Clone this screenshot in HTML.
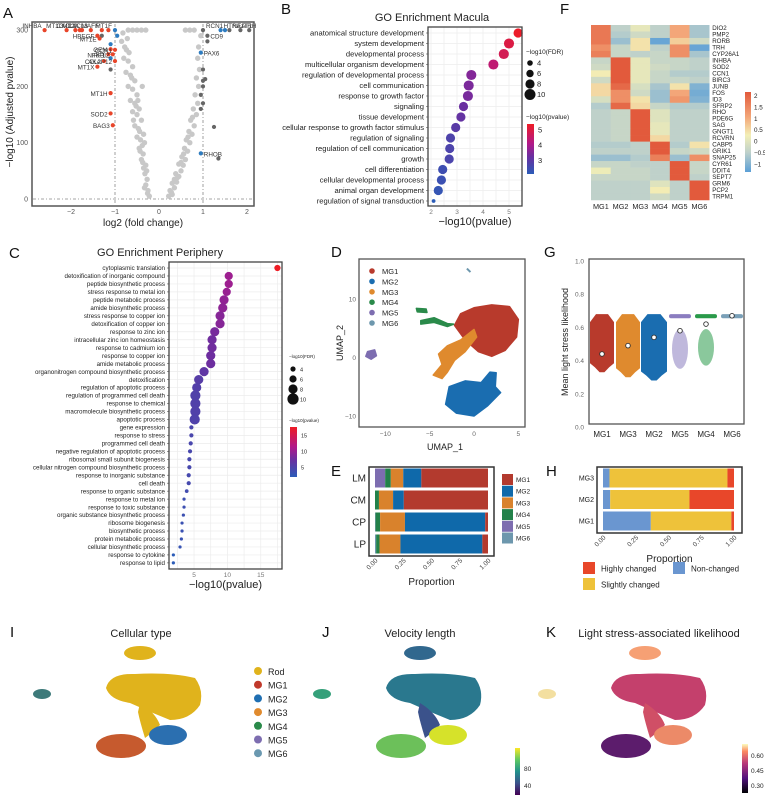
<!DOCTYPE html>
<html><head><meta charset="utf-8"><style>
html,body{margin:0;padding:0;background:#fff;}
svg{display:block;font-family:"Liberation Sans",Arial,sans-serif;}
</style></head><body>
<svg id="s" width="765" height="797" viewBox="0 0 765 797" xmlns="http://www.w3.org/2000/svg">
<rect width="765" height="797" fill="#fff"/>
<g font-size="15" fill="#111">
<text x="3" y="18">A</text>
<text x="281" y="14">B</text>
<text x="560" y="14">F</text>
<text x="9" y="258">C</text>
<text x="331" y="257">D</text>
<text x="544" y="257">G</text>
<text x="331" y="476">E</text>
<text x="546" y="476">H</text>
<text x="10" y="637">I</text>
<text x="322" y="637">J</text>
<text x="546" y="637">K</text>
</g>
<g font-size="11" fill="#222" text-anchor="middle">
<text x="432" y="21">GO Enrichment Macula</text>
<text x="160" y="256">GO Enrichment Periphery</text>
<text x="141" y="637">Cellular type</text>
<text x="420" y="637">Velocity length</text>
<text x="659" y="637">Light stress-associated likelihood</text>
</g>
</svg>
<script>
const NS="http://www.w3.org/2000/svg";
const svg=document.getElementById('s');
function mk(tag,a,p){const e=document.createElementNS(NS,tag);for(const k in a)e.setAttribute(k,a[k]);(p||svg).appendChild(e);return e;}
function tx(s,x,y,size,anchor,fill,p){const e=mk('text',{x:x,y:y,'font-size':size,'text-anchor':anchor||'start',fill:fill||'#222'},p);e.textContent=s;return e;}
function lerpC(stops,t){t=Math.max(0,Math.min(1,t));for(let i=1;i<stops.length;i++){if(t<=stops[i][0]){const a=stops[i-1],b=stops[i];const f=(t-a[0])/(b[0]-a[0]);const ca=a[1],cb=b[1];return 'rgb('+[0,1,2].map(j=>Math.round(ca[j]+(cb[j]-ca[j])*f)).join(',')+')';}}return 'rgb('+stops[stops.length-1][1].join(',')+')';}
function hex(h){return [parseInt(h.substr(1,2),16),parseInt(h.substr(3,2),16),parseInt(h.substr(5,2),16)];}

/* ================= A: volcano ================= */
const volcGrayLeft=[[-0.22,5],[-0.25,15],[-0.33,20],[-0.3,25],[-0.27,35],[-0.32,45],[-0.28,50],[-0.35,55],[-0.3,60],[-0.4,70],[-0.36,80],[-0.43,85],[-0.45,90],[-0.38,95],[-0.33,100],[-0.42,105],[-0.5,110],[-0.35,115],[-0.47,125],[-0.55,130],[-0.4,140],[-0.58,140],[-0.5,150],[-0.6,155],[-0.45,160],[-0.55,170],[-0.48,175],[-0.65,175],[-0.5,185],[-0.6,195],[-0.38,200],[-0.7,200],[-0.55,210],[-0.65,220],[-0.75,225],[-0.6,235],[-0.7,245],[-0.8,250],[-0.68,260],[-0.78,270],[-0.85,280],[-0.72,285],[-0.82,295],[-0.6,300],[-0.5,300],[-0.4,300],[-0.3,300],[-0.7,300],[-0.26,10],[-0.37,65],[-0.44,120],[-0.52,165],[-0.62,215],[-0.74,265]];
const volcGrayRight=[[0.22,5],[0.3,8],[0.25,15],[0.35,20],[0.3,28],[0.4,30],[0.35,35],[0.45,40],[0.38,45],[0.5,50],[0.55,60],[0.45,62],[0.5,65],[0.6,70],[0.52,75],[0.65,85],[0.58,90],[0.7,100],[0.62,105],[0.75,115],[0.68,120],[0.8,130],[0.72,140],[0.85,150],[0.78,160],[0.88,170],[0.82,185],[0.9,200],[0.85,215],[0.92,230],[0.88,250],[0.9,270],[0.95,290],[0.6,300],[0.7,300],[0.8,300],[0.28,12],[0.42,38],[0.56,80],[0.66,110],[0.76,145]];
const volcRed=[[-2.6,300,'INHBA'],[-2.1,300,'MT1G'],[-1.8,300,'CXCL2'],[-1.75,300,'MT2A'],[-1.55,300,'CXCL3'],[-1.3,300,'MAFF'],[-1.4,290,'HBEGF'],[-1.35,285,'MT1E'],[-1.1,266,'GEM'],[-1.0,265,'CCN1'],[-1.15,257,'IRF1'],[-1.05,257,'NFKBIZ'],[-1.25,245,'CCL2'],[-1.0,245,'AKAP12'],[-1.4,235,'MT1X'],[-1.1,188,'MT1H'],[-1.1,152,'SOD2'],[-1.05,131,'BAG3'],[-1.9,300,''],[-1.15,300,'']];
const volcBlue=[[-1.0,300,'MT1F'],[-0.95,290,''],[-1.1,275,''],[-1.1,250,''],[1.4,300,'HTRA1'],[1.5,300,''],[0.95,260,'PAX6'],[0.95,81,'RHOB']];
const volcDark=[[1.0,300,'RCN1'],[1.1,290,'CD9'],[1.85,300,'TRH'],[1.6,300,'NEAT1'],[2.05,300,''],[1.1,280,''],[1.0,230,''],[1.0,210,''],[1.05,213,''],[1.0,200,''],[0.95,185,''],[1.0,170,''],[0.95,160,''],[1.25,128,''],[1.35,72,''],[-1.1,230,''],[-1.3,290,'']];
const volcXTicks=[-2,-1,0,1,2];
const volcYTicks=[0,100,200,300];
(function(){
 const g=mk('g',{});
 
 
 const X=v=>159+v*44, Y=v=>199-v*0.563;
 const L=mk('line',{x1:X(-1),x2:X(-1),y1:24,y2:205,stroke:'#888','stroke-dasharray':'3,2,1,2','stroke-width':0.8},g);
 
 const R=mk('line',{x1:X(1),x2:X(1),y1:24,y2:205,stroke:'#888','stroke-dasharray':'3,2,1,2','stroke-width':0.8},g);
 
 const H=mk('line',{x1:33,x2:253,y1:Y(0),y2:Y(0),stroke:'#888','stroke-dasharray':'3,2,1,2','stroke-width':0.8},g);
 
 volcGrayLeft.concat(volcGrayRight).forEach(p=>{
  const c=mk('circle',{cx:X(p[0]),cy:Y(p[1]),r:2.7,fill:'#c8c8c8'},g);
  
  
 });
 [[volcDark,'#666'],[volcBlue,'#2e7cc0'],[volcRed,'#e8452a']].forEach(([arr,col])=>{
  arr.forEach(p=>{
   const c=mk('circle',{cx:X(p[0]),cy:Y(p[1]),r:2.1,fill:col},g);
   
   
   if(p[2]){
    const left=p[0]<0;
    const t=tx(p[2],X(p[0])+(left?-3:3),Y(p[1])+(p[1]>=299?-2:3),6.3,left?'end':'start','#333',g);
    
    
   }
  });
 });
 const box=mk('rect',{x:32,y:22,width:222,height:184,fill:'none',stroke:'#555','stroke-width':1.5},g);
 
 volcXTicks.forEach(v=>{
  const t=tx(String(v).replace('-','−'),X(v),214,7,'middle','#555',g);
  
  
 });
 volcYTicks.forEach(v=>{
  const t=tx(String(v),28,Y(v)+2.5,7,'end','#555',g);
  
  
 });
 const xt=tx('log2 (fold change)',143,226,10,'middle','#222',g);
 
 const yt=tx('−log10 (Adjusted pvalue)',0,0,10,'middle','#222',g);
 yt.setAttribute('transform','translate(13,112) rotate(-90)');
 
})();

/* ================= GO dot plots ================= */
const goStops=[[0,hex('#2b5cb8')],[0.35,hex('#6a2fa0')],[0.6,hex('#b0198a')],[1,hex('#ee1c25')]];
const macTerms=['anatomical structure development','system development','developmental process','multicellular organism development','regulation of developmental process','cell communication','response to growth factor','signaling','tissue development','cellular response to growth factor stimulus','regulation of signaling','regulation of cell communication','growth','cell differentiation','cellular developmental process','animal organ development','regulation of signal transduction'];
const macPval=[5.35,5.0,4.8,4.4,3.55,3.45,3.42,3.25,3.15,2.95,2.75,2.72,2.7,2.45,2.4,2.28,2.1];
const macFDR=[8,9,9,9,9,9,9,8,8,8,8,8,8,8,8,8,2];
const macTicks=[2,3,4,5];
const perTerms=['cytoplasmic translation','detoxification of inorganic compound','peptide biosynthetic process','stress response to metal ion','peptide metabolic process','amide biosynthetic process','stress response to copper ion','detoxification of copper ion','response to zinc ion','intracellular zinc ion homeostasis','response to cadmium ion','response to copper ion','amide metabolic process','organonitrogen compound biosynthetic process','detoxification','regulation of apoptotic process','regulation of programmed cell death','response to chemical','macromolecule biosynthetic process','apoptotic process','gene expression','response to stress','programmed cell death','negative regulation of apoptotic process','ribosomal small subunit biogenesis','cellular nitrogen compound biosynthetic process','response to inorganic substance','cell death','response to organic substance','response to metal ion','response to toxic substance','organic substance biosynthetic process','ribosome biogenesis','biosynthetic process','protein metabolic process','cellular biosynthetic process','response to cytokine','response to lipid'];
const perPval=[17.5,10.2,10.2,9.9,9.5,9.3,8.9,8.9,8.1,7.7,7.7,7.5,7.5,6.5,5.7,5.4,5.2,5.2,5.2,5.1,4.6,4.6,4.5,4.4,4.3,4.3,4.2,4.2,3.9,3.5,3.5,3.4,3.2,3.2,3.1,2.9,1.9,1.9];
const perFDR=[5,7,7,7,8,8,8,8,8,8,8,8,8,8,8,8,9,9,9,9,3,3,3,3,3,3,3,3,2.5,2,2,2,2,2,2,2,2,2];
const perTicks=[5,10,15];
function dotPlot(o){
 const g=mk('g',{});
 
 
 const X=v=>o.x0+(v-o.vmin)*o.kx, Y=i=>o.y0+i*o.dy;
 for(let v=o.gmin;v<=o.gmax+1e-9;v+=o.gstep){
  const l=mk('line',{x1:X(v),x2:X(v),y1:o.top,y2:o.bot,stroke:'#ececec','stroke-width':0.7},g);
  
 }
 o.terms.forEach((t,i)=>{
  const l=mk('line',{x1:o.left,x2:o.right,y1:Y(i),y2:Y(i),stroke:'#ececec','stroke-width':0.7},g);
  
  const lab=tx(t,o.left-4,Y(i)+o.fs*0.35,o.fs,'end','#222',g);
  
  
  const tk=mk('line',{x1:o.left-2,x2:o.left,y1:Y(i),y2:Y(i),stroke:'#555','stroke-width':0.6},g);
  
 });
 o.vals.forEach((v,i)=>{
  const c=mk('circle',{cx:X(v),cy:Y(i),r:o.rfn(o.fdr[i]),fill:lerpC(goStops,(v-o.cmin)/(o.cmax-o.cmin))},g);
  
  
 });
 const b=mk('rect',{x:o.left,y:o.top,width:o.right-o.left,height:o.bot-o.top,fill:'none',stroke:'#444','stroke-width':1.3},g);
 
 o.ticks.forEach(v=>{
  const t=tx(String(v),X(v),o.bot+8,6.5,'middle','#777',g);
  
  
 });
 const xt=tx('−log10(pvalue)',(o.left+o.right)/2,o.bot+19,11,'middle','#222',g);
 
 const lg=o.lg;
 const l1=tx('−log10(FDR)',lg.x,lg.y,lg.fs,'start','#222',g);
 
 o.lsz.forEach((s,k)=>{
  const c=mk('circle',{cx:lg.x+4,cy:lg.y+lg.sy0+k*lg.sy,r:o.rfn(s),fill:'#111'},g);
  
  const t=tx(String(s),lg.x+11,lg.y+lg.sy0+k*lg.sy+2.5,lg.fs+1,'start','#222',g);
  
 });
 const l2=tx('−log10(pvalue)',lg.x,lg.cy,lg.fs,'start','#222',g);
 
 const gid='grad'+o.name;
 const defs=mk('defs',{},g);
 const lgd=mk('linearGradient',{id:gid,x1:0,y1:1,x2:0,y2:0},defs);
 goStops.forEach(s=>mk('stop',{offset:s[0],'stop-color':'rgb('+s[1].join(',')+')'},lgd));
 const cb=mk('rect',{x:lg.x+1,y:lg.cy+5,width:7,height:lg.ch,fill:'url(#'+gid+')'},g);
 
 o.ctk.forEach(v=>{
  const yy=lg.cy+5+lg.ch*(1-(v-o.cmin)/(o.cmax-o.cmin));
  const t=tx(String(v),lg.x+12,yy+2.5,lg.fs+1,'start','#222',g);
  
 });
}
dotPlot({name:'go-macula-dotplot',terms:macTerms,vals:macPval,fdr:macFDR,ticks:macTicks,
 x0:431,vmin:2,kx:26,y0:33,dy:10.5,left:428,right:522,top:27,bot:206,fs:7.6,
 gmin:2,gmax:5.5,gstep:0.5,cmin:2.1,cmax:5.4,rfn:f=>1+f*0.45,
 lg:{x:526,y:54,fs:6.5,sy0:9,sy:10.5,cy:119,ch:50},lsz:[4,6,8,10],ctk:[5,4,3]});
dotPlot({name:'go-periphery-dotplot',terms:perTerms,vals:perPval,fdr:perFDR,ticks:perTicks,
 x0:160.7,vmin:0,kx:6.67,y0:268,dy:7.97,left:169,right:282,top:262,bot:569,fs:6.2,
 gmin:2.5,gmax:17.5,gstep:2.5,cmin:1.9,cmax:17.5,rfn:f=>0.6+f*0.5,
 lg:{x:289,y:358,fs:4.5,sy0:11,sy:10,cy:422,ch:50},lsz:[4,6,8,10],ctk:[15,10,5]});

/* ================= F: heatmap ================= */
const hmGenes=['DIO2','PMP2','RORB','TRH','CYP26A1','INHBA','SOD2','CCN1','BIRC3','JUNB','FOS','ID3','SFRP2','RHO','PDE6G','SAG','GNGT1','RCVRN','CABP5','GRIK1','SNAP25','CYR61','DDIT4','SEPT7','GRM6','PCP2','TRPM1'];
const hmGroups=['MG1','MG2','MG3','MG4','MG5','MG6'];
const hmValues=[
[1.6,-0.4,0.1,-0.4,1.0,-0.6],[1.6,-0.5,-0.2,-0.4,1.0,-0.6],[1.6,-0.7,0.4,-1.1,0.6,-0.2],[1.3,-0.3,0.4,-0.4,1.3,-1.1],[1.5,-0.3,-0.4,-0.3,1.3,-0.6],
[-0.3,2.0,0.1,-0.3,-0.3,-0.4],[-0.2,2.0,0.1,-0.2,-0.3,-0.4],[0.3,2.0,0.1,-0.3,-0.5,-0.5],[-0.2,2.0,0.1,-0.3,-0.3,-0.4],[0.5,1.8,-0.1,-0.6,0.4,-0.9],[0.5,1.3,-0.2,-0.7,1.0,-1.0],[-0.1,1.3,0.4,-0.7,1.2,-0.9],[-0.5,1.8,0.5,-0.3,-0.5,-0.5],
[-0.4,-0.3,2.0,0.0,-0.4,-0.4],[-0.4,-0.3,2.0,0.0,-0.4,-0.4],[-0.4,-0.3,2.0,0.1,-0.4,-0.4],[-0.4,-0.3,2.0,0.1,-0.4,-0.4],[-0.4,-0.3,2.0,0.5,-0.4,-0.4],
[-0.5,-0.5,-0.4,2.0,-0.5,0.4],[-0.4,-0.4,-0.4,2.0,-0.3,-0.2],[-0.7,-0.7,-0.5,1.5,-0.7,1.3],
[-0.3,-0.3,-0.4,-0.4,2.0,-0.3],[0.2,-0.3,-0.3,-0.4,2.0,-0.3],[-0.3,-0.3,-0.3,-0.4,2.0,-0.4],
[-0.4,-0.4,-0.4,0.0,-0.4,2.0],[-0.4,-0.4,-0.4,0.3,-0.4,2.0],[-0.4,-0.4,-0.4,-0.2,-0.4,2.0]];
const hmTicks=[2,1.5,1,0.5,0,-0.5,-1];
const hmStops=[[0,hex('#5b9fd6')],[0.24,hex('#bdd0cb')],[0.46,hex('#f3efb6')],[0.68,hex('#f3a87a')],[1,hex('#e25a3c')]];
(function(){
 const g=mk('g',{});
 
 
 const vmin=-1.2,vmax=2.0,cw=19.7,ch=6.48,x0=591,y0=25;
 hmValues.forEach((row,i)=>row.forEach((v,j)=>{
  const r=mk('rect',{x:x0+j*cw,y:y0+i*ch,width:cw+0.3,height:ch+0.3,fill:lerpC(hmStops,(v-vmin)/(vmax-vmin))},g);
  
  
 }));
 hmGenes.forEach((n,i)=>{
  const t=tx(n,x0+6*cw+3,y0+i*ch+5,6.2,'start','#222',g);
  
 });
 hmGroups.forEach((n,j)=>{
  const t=tx(n,x0+j*cw+cw/2,209,7.3,'middle','#222',g);
  
 });
 const defs=mk('defs',{},g);
 const lgd=mk('linearGradient',{id:'hmgrad',x1:0,y1:1,x2:0,y2:0},defs);
 hmStops.forEach(s=>mk('stop',{offset:s[0],'stop-color':'rgb('+s[1].join(',')+')'},lgd));
 const cb=mk('rect',{x:745,y:92,width:6,height:80,fill:'url(#hmgrad)'},g);
 
 const cy=v=>92+80*(1-(v+1.35)/(2.15+1.35));
 hmTicks.forEach(v=>{
  const t=tx(String(v).replace('-','−'),754,cy(v)+2.5,6.3,'start','#222',g);
  
 });
})();

/* ================= D: UMAP ================= */
const umapNames=['MG1','MG2','MG3','MG4','MG5','MG6'];
const umapColors=['#b83a2c','#1a6db0','#df8a2e','#2a8a4a','#7d6db0','#6d97ad'];
const umapMG1=[[-1.5,7.5],[0,8.5],[2,9],[4,8.7],[5,6.5],[4.8,3.5],[3.5,1.2],[2,0.2],[0.5,1],[-1,3],[-2.2,5.5]];
const umapMG2=[[-3.2,-8],[-2.8,-5],[-1,-4],[0.8,-4.3],[1.8,-2.5],[2.5,-2.6],[2.4,-5],[3,-6],[1.5,-8.3],[0,-10],[-2,-9.5]];
const umapMG3=[[-4.6,-3],[-3.6,-1.2],[-4,0.6],[-3,2],[-1.5,3],[0,4.8],[0.3,3.5],[-1,1],[-2.2,-0.5],[-3,-2.5],[-3.6,-3.6]];
const umapMG4=[[-6.5,8.4],[-5.4,8.3],[-5.3,7.7],[-6.4,7.8]];
const umapMG4b=[[-6,6.3],[-4.5,6.8],[-3,5.8],[-2.3,5.7],[-3,5.3],[-4.5,6],[-6,5.7]];
const umapMG5=[[-12,1],[-11.2,1.3],[-11,0.3],[-11.6,-0.3],[-12.2,0.2]];
const umapTicksX=[-10,-5,0,5];
const umapTicksY=[10,0,-10];
(function(){
 const g=mk('g',{});
 
 
 const X=v=>474+v*8.87, Y=v=>357.5-v*5.85;
 const poly=(pts,col,name)=>{const p=mk('polygon',{points:pts.map(q=>X(q[0])+','+Y(q[1])).join(' '),fill:col,stroke:col,'stroke-width':1.5,'stroke-linejoin':'round'},g);};
 poly(umapMG1,umapColors[0],'cluster-mg1');
 poly(umapMG2,umapColors[1],'cluster-mg2');
 poly(umapMG3,umapColors[2],'cluster-mg3');
 poly(umapMG4,umapColors[3],'cluster-mg4');
 poly(umapMG4b,umapColors[3],'cluster-mg4-strand');
 poly(umapMG5,umapColors[4],'cluster-mg5');
 const m6=mk('line',{x1:X(-0.8),y1:Y(15.2),x2:X(-0.4),y2:Y(14.6),stroke:umapColors[5],'stroke-width':2},g);
 
 const b=mk('rect',{x:359,y:259,width:166,height:168,fill:'none',stroke:'#555','stroke-width':1.3},g);
 
 umapNames.forEach((n,k)=>{
  const c=mk('circle',{cx:372,cy:271+k*10.4,r:2.8,fill:umapColors[k]},g);
  
  const t=tx(n,382,274+k*10.4,7.5,'start','#222',g);
  
  
 });
 umapTicksX.forEach(v=>{const t=tx(String(v).replace('-','−'),X(v),436,6.5,'middle','#666',g);});
 umapTicksY.forEach(v=>{const t=tx(String(v).replace('-','−'),356,Y(v)+2.5,6.5,'end','#666',g);});
 const xt=tx('UMAP_1',445,450,9,'middle','#222',g);
 const yt=tx('UMAP_2',0,0,9,'middle','#222',g);yt.setAttribute('transform','translate(343,343) rotate(-90)');
})();

/* ================= G: jitter/violin ================= */
const gCats=['MG1','MG3','MG2','MG5','MG4','MG6'];
const gMeans=[0.44,0.49,0.54,0.58,0.62,0.67];
const gMins=[0.33,0.30,0.28,0.36,0.38,0.35];
const gMaxs=[0.68,0.68,0.68,0.68,0.68,0.68];
const gYTicks=[0.0,0.2,0.4,0.6,0.8,1.0];
const gColors=['#b83a2c','#df8a2e','#1a6db0','#8b7dc0','#2a9a4a','#7aa0b8'];
(function(){
 const g=mk('g',{});
 
 
 const Y=v=>427-v*166, X=i=>602+i*26;
 gCats.forEach((c,i)=>{
  const col=gColors[i],x=X(i);
  if(i<3){
   const w=[12,12,13][i];
   const top=Y(gMaxs[i]),bot=Y(gMins[i]+0.03),lo=Y(gMins[i]);
   const p=mk('path',{d:`M${x-w*0.5},${top} L${x+w*0.5},${top} L${x+w},${top+8} L${x+w},${bot-4} L${x+w*0.6},${bot} L${x+w*0.2},${lo} L${x-w*0.2},${lo} L${x-w*0.6},${bot} L${x-w},${bot-4} L${x-w},${top+8} Z`,fill:col},g);
   
  } else {
   const band=mk('rect',{x:x-11,y:Y(gMaxs[i]),width:22,height:Y(0.655)-Y(gMaxs[i]),fill:col,rx:2},g);
   
   if(i<5){
    const e=mk('ellipse',{cx:x,cy:Y((gMins[i]+0.58)/2),rx:8,ry:(Y(gMins[i])-Y(0.6))/2,fill:col,opacity:0.55},g);
    
   }
  }
  const m=mk('circle',{cx:x,cy:Y(gMeans[i]),r:2.3,fill:'#fff',stroke:'#333','stroke-width':0.9},g);
  
  
  const t=tx(c,x,437,8,'middle','#222',g);
  
 });
 const b=mk('rect',{x:589,y:259,width:155,height:165,fill:'none',stroke:'#555','stroke-width':1.3},g);
 
 gYTicks.forEach(v=>{const t=tx(v.toFixed(1),584,Y(v)+2.5,6.5,'end','#666',g);});
 const yt=tx('Mean light stress likelihood',0,0,9,'middle','#222',g);
 yt.setAttribute('transform','translate(568,342) rotate(-90)');
 
})();

/* ================= E & H stacked bars ================= */
const eRegions=['LM','CM','CP','LP'];
const eSeries=['MG6','MG5','MG4','MG3','MG2','MG1'];
const eMG6=[0.0,0.0,0.005,0.01];
const eMG5=[0.09,0.0,0.0,0.0];
const eMG4=[0.05,0.035,0.04,0.03];
const eMG3=[0.11,0.125,0.22,0.185];
const eMG2=[0.16,0.095,0.71,0.725];
const eMG1=[0.59,0.745,0.025,0.05];
const hGroups=['MG3','MG2','MG1'];
const hNon=[0.05,0.055,0.365];
const hSlight=[0.90,0.605,0.615];
const hHigh=[0.05,0.34,0.02];
const propTicks=['0.00','0.25','0.50','0.75','1.00'];
function stacked(o){
 const g=mk('g',{});
 
 
 const X=v=>o.x0+v*o.w;
 o.cats.forEach((c,i)=>{
  let acc=0;const y=o.y0+i*o.dy;
  o.series.forEach((s,k)=>{
   const v=s[i];
   const r=mk('rect',{x:X(acc),y:y-o.bh/2,width:Math.max(0,v*o.w),height:o.bh,fill:o.colors[k]},g);
   
   
   acc+=v;
  });
  const t=tx(c,o.x0-9,y+o.lfs*0.35,o.lfs,'end','#222',g);
  
 });
 const b=mk('rect',{x:o.bx,y:o.by,width:o.bw,height:o.bhgt,fill:'none',stroke:'#333','stroke-width':1.5},g);
 
 propTicks.forEach(s=>{
  const t=tx(s,0,0,6.5,'end','#444',g);
  t.setAttribute('transform',`translate(${X(parseFloat(s))+3},${o.by+o.bhgt+5}) rotate(-45)`);
  
 });
 const xt=tx('Proportion',(o.bx+o.bx+o.bw)/2,o.by+o.bhgt+29,10,'middle','#222',g);
 
}
stacked({name:'region-composition-bars',cats:eRegions,series:[eMG6,eMG5,eMG4,eMG3,eMG2,eMG1],
 colors:['#6d97ad','#7d6db0','#23814a','#d9822c','#0f69aa','#b33a2e'],x0:375,w:113,y0:478,dy:22,bh:19,lfs:10,bx:369,by:467,bw:125,bhgt:89});
stacked({name:'change-status-bars',cats:hGroups,series:[hNon,hSlight,hHigh],
 colors:['#6a96d0','#eec23a','#e8472a'],x0:603,w:131,y0:478,dy:21.5,bh:19,lfs:7,bx:597,by:467,bw:145,bhgt:66});
(function(){
 const g=mk('g',{});
 
 
 const cols=['#b33a2e','#0f69aa','#d9822c','#23814a','#7d6db0','#6d97ad'];
 ['MG1','MG2','MG3','MG4','MG5','MG6'].forEach((n,k)=>{
  const r=mk('rect',{x:502,y:479+k*11.7-5,width:11,height:11,fill:cols[k]},g);
  
  const t=tx(n,516,479+k*11.7+3,6.5,'start','#222',g);
  
  
 });
 const g2=mk('g',{});
 
 
 [['Highly changed','#e8472a',583,568],['Non-changed','#6a96d0',673,568],['Slightly changed','#eec23a',583,584]].forEach(d=>{
  const r=mk('rect',{x:d[2],y:d[3]-6,width:12,height:12,fill:d[1]},g2);
  
  const t=tx(d[0],d[2]+18,d[3]+3.5,8,'start','#222',g2);
  
  
 });
})();

/* ================= I, J, K embeddings ================= */
const rowNames=['Rod','MG1','MG2','MG3','MG4','MG5','MG6'];
const rowColors=['#e0b31c','#c0392b','#1f6fb2','#e08a2e','#2a8a4a','#7d6db0','#6a98b0'];
function blobSet(dx,cols,name){
 const g=mk('g',{});
 
 
 const shapes=[
  ['ellipse',{cx:140,cy:653,rx:16,ry:7},cols.top,'top-cluster'],
  ['path',{d:'M106,688 Q110,673 135,674 Q170,672 195,678 Q204,690 200,705 Q190,720 170,720 Q150,712 130,703 Q110,700 106,688 Z'},cols.main,'main-cluster'],
  ['path',{d:'M140,703 Q155,712 160,725 Q152,733 145,738 Q140,722 138,712 Z'},cols.neck,'neck'],
  ['ellipse',{cx:121,cy:746,rx:25,ry:12},cols.left,'left-lobe'],
  ['ellipse',{cx:168,cy:735,rx:19,ry:10},cols.right,'right-lobe'],
  ['ellipse',{cx:42,cy:694,rx:9,ry:5},cols.side,'side-cluster']
 ];
 shapes.forEach(s=>{
  const a=Object.assign({},s[1],{fill:s[2]});
  if(s[0]==='ellipse')a.cx=s[1].cx+dx;
  const e=mk(s[0],a,g);
  if(s[0]==='path')e.setAttribute('transform','translate('+dx+',0)');
  
 });
 return g;
}
blobSet(0,{top:'#e0b31c',main:'#e0b31c',neck:'#e0b31c',left:'#c65a2e',right:'#2b6fb0',side:'#3d7a7a'},'cellular-type-embedding');
blobSet(280,{top:'#31688e',main:'#2a788e',neck:'#3b528b',left:'#6cc05a',right:'#d6e22a',side:'#35a07a'},'velocity-length-embedding');
blobSet(505,{top:'#f6a074',main:'#c4406c',neck:'#d04f66',left:'#5c1c6c',right:'#ec8a68',side:'#f3dfa0'},'likelihood-embedding');
(function(){
 const g=mk('g',{});
 
 
 rowNames.forEach((n,k)=>{
  const c=mk('circle',{cx:258,cy:671+k*13.7,r:4,fill:rowColors[k]},g);
  
  const t=tx(n,268,675+k*13.7,9,'start','#222',g);
  
  
 });
 const defs=mk('defs',{},g);
 const v=mk('linearGradient',{id:'vir',x1:0,y1:1,x2:0,y2:0},defs);
 [['0','#440154'],['0.25','#3b528b'],['0.5','#21918c'],['0.75','#5ec962'],['1','#fde725']].forEach(s=>mk('stop',{offset:s[0],'stop-color':s[1]},v));
 const m=mk('linearGradient',{id:'mag',x1:0,y1:1,x2:0,y2:0},defs);
 [['0','#000004'],['0.3','#51127c'],['0.6','#b73779'],['0.85','#fc8961'],['1','#fcfdbf']].forEach(s=>mk('stop',{offset:s[0],'stop-color':s[1]},m));
 const c1=mk('rect',{x:515,y:748,width:5,height:47,fill:'url(#vir)'},g);
 
 [['80',769],['40',786]].forEach(d=>{const t=tx(d[0],524,d[1]+2,6.5,'start','#222',g);});
 const c2=mk('rect',{x:742,y:744,width:6,height:49,fill:'url(#mag)'},g);
 
 [['0.60',756],['0.45',771],['0.30',786]].forEach(d=>{const t=tx(d[0],751,d[1]+2,6.5,'start','#222',g);});
})();
</script>
</body></html>
